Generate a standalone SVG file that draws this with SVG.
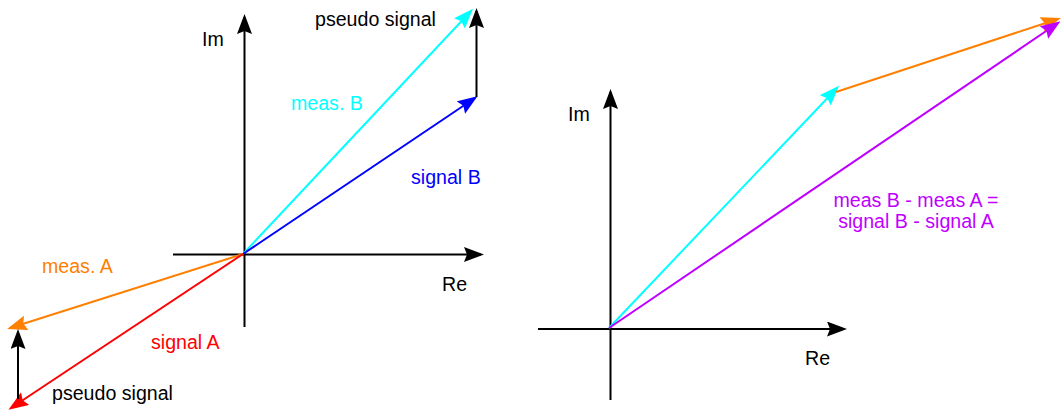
<svg xmlns="http://www.w3.org/2000/svg" width="1063" height="414" viewBox="0 0 1063 414">
<style>
text{font-family:"Liberation Sans",Arial,sans-serif;font-size:19.6px}
.ln{stroke-width:2;fill:none}
</style>
<defs>
<marker id="mk" markerUnits="userSpaceOnUse" markerWidth="22" markerHeight="16" refX="17" refY="7.5" orient="auto"><path d="M0,0 L20,7.5 L0,15 L3,7.5 z" fill="#000"/></marker>
<marker id="mc" markerUnits="userSpaceOnUse" markerWidth="22" markerHeight="16" refX="17" refY="7.5" orient="auto"><path d="M0,0 L20,7.5 L0,15 L3,7.5 z" fill="#00FFFF"/></marker>
<marker id="mb" markerUnits="userSpaceOnUse" markerWidth="22" markerHeight="16" refX="17" refY="7.5" orient="auto"><path d="M0,0 L20,7.5 L0,15 L3,7.5 z" fill="#0000FF"/></marker>
<marker id="mo" markerUnits="userSpaceOnUse" markerWidth="22" markerHeight="16" refX="17" refY="7.5" orient="auto"><path d="M0,0 L20,7.5 L0,15 L3,7.5 z" fill="#FF8000"/></marker>
<marker id="mr" markerUnits="userSpaceOnUse" markerWidth="22" markerHeight="16" refX="17" refY="7.5" orient="auto"><path d="M0,0 L20,7.5 L0,15 L3,7.5 z" fill="#FF0000"/></marker>
<marker id="mp" markerUnits="userSpaceOnUse" markerWidth="22" markerHeight="16" refX="17" refY="7.5" orient="auto"><path d="M0,0 L20,7.5 L0,15 L3,7.5 z" fill="#BF00FF"/></marker>
</defs>
<g id="connectors">
<line class="ln" x1="173" y1="254.5" x2="481" y2="254.5" stroke="#000" marker-end="url(#mk)"/>
<line class="ln" x1="244.5" y1="327" x2="244.5" y2="17" stroke="#000" marker-end="url(#mk)"/>
<line class="ln" x1="243" y1="254" x2="471" y2="11" stroke="#00FFFF" marker-end="url(#mc)"/>
<line class="ln" x1="243" y1="254" x2="475" y2="98" stroke="#0000FF" marker-end="url(#mb)"/>
<line class="ln" x1="476.5" y1="97" x2="476.5" y2="11" stroke="#000" marker-end="url(#mk)"/>
<line class="ln" x1="243" y1="254" x2="10" y2="328" stroke="#FF8000" marker-end="url(#mo)"/>
<line class="ln" x1="243" y1="254" x2="11" y2="408" stroke="#FF0000" marker-end="url(#mr)"/>
<line class="ln" x1="18" y1="399" x2="18" y2="332" stroke="#000" marker-end="url(#mk)"/>
<line class="ln" x1="538" y1="329" x2="844" y2="329" stroke="#000" marker-end="url(#mk)"/>
<line class="ln" x1="610.5" y1="400" x2="610.5" y2="92" stroke="#000" marker-end="url(#mk)"/>
<line class="ln" x1="609" y1="328" x2="837" y2="88" stroke="#00FFFF" marker-end="url(#mc)"/>
<line class="ln" x1="836" y1="92" x2="1058" y2="19" stroke="#FF8000" marker-end="url(#mo)"/>
<line class="ln" x1="609" y1="328" x2="1058" y2="23" stroke="#BF00FF" marker-end="url(#mp)"/>
</g>
<g id="labels-left">
<text id="im-left" x="202" y="46">Im</text>
<text id="re-left" x="442" y="291">Re</text>
<text id="pseudo-top" x="315" y="26">pseudo signal</text>
<text id="measB" x="291" y="110" fill="#00FFFF">meas. B</text>
<text id="signalB" x="411" y="184" fill="#0000FF">signal B</text>
<text id="measA" x="42" y="273" fill="#FF8000">meas. A</text>
<text id="signalA" x="151" y="349" fill="#FF0000">signal A</text>
<text id="pseudo-bottom" x="52" y="400">pseudo signal</text>
</g>
<g id="labels-right">
<text id="im-right" x="568" y="121">Im</text>
<text id="re-right" x="805" y="365">Re</text>
<text id="diff" text-anchor="middle" fill="#BF00FF"><tspan x="916" y="207">meas B - meas A =</tspan><tspan x="916" y="228">signal B - signal A</tspan></text>
</g>
</svg>
